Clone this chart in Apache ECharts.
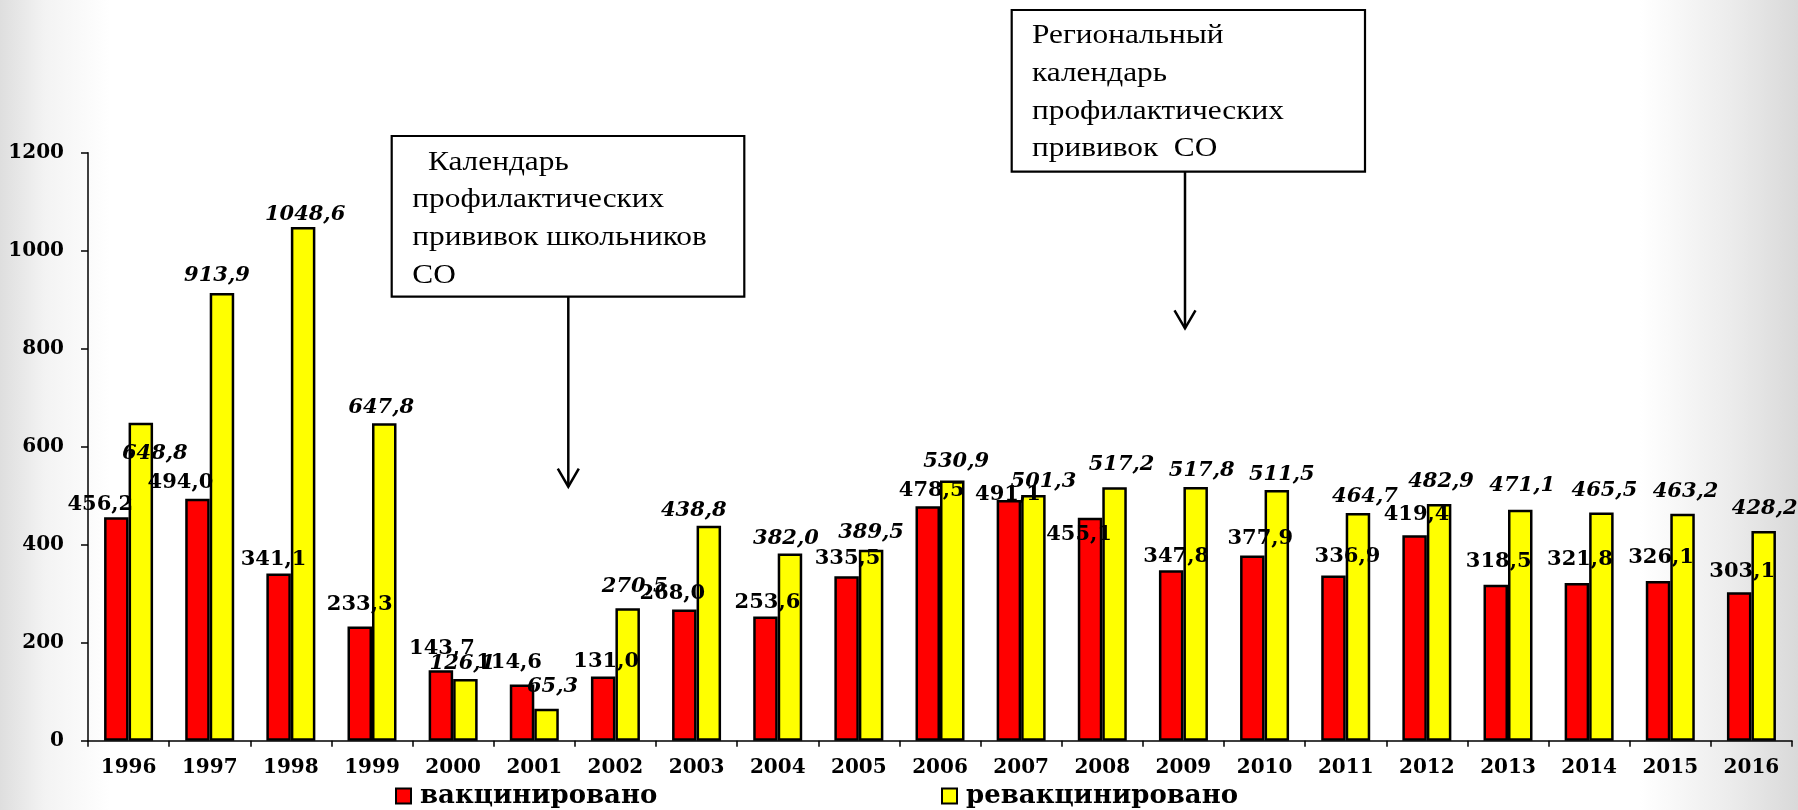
<!DOCTYPE html>
<html>
<head>
<meta charset="utf-8">
<script src="https://cdn.jsdelivr.net/npm/echarts@6/dist/echarts.min.js"></script>
<style>
  html, body { margin: 0; padding: 0; }
  body {
    width: 1798px; height: 810px; overflow: hidden;
    background:
      linear-gradient(to right, #dedede 0px, #f3f3f3 45px, #ffffff 110px, #ffffff 1640px, #ececec 1730px, #d9d9d9 1798px);
  }
  #chart { width: 1798px; height: 810px; }
</style>
</head>
<body>
<div id="chart"></div>
<script>
// ---- data ----
const years = ['1996','1997','1998','1999','2000','2001','2002','2003','2004','2005','2006',
               '2007','2008','2009','2010','2011','2012','2013','2014','2015','2016'];
const vaccinated = [456.2, 494.0, 341.1, 233.3, 143.7, 114.6, 131.0, 268.0, 253.6, 335.5, 478.5,
                    491.1, 455.1, 347.8, 377.9, 336.9, 419.4, 318.5, 321.8, 326.1, 303.1];
const revaccinated = [648.8, 913.9, 1048.6, 647.8, 126.1, 65.3, 270.5, 438.8, 382.0, 389.5, 530.9,
                      501.3, 517.2, 517.8, 511.5, 464.7, 482.9, 471.1, 465.5, 463.2, 428.2];
const seriesNames = ['вакцинировано', 'ревакцинировано'];
const yTicks = { min: 0, max: 1200, interval: 200 };
const note1Lines = ['  Календарь', 'профилактических', 'прививок школьников', 'СО'];
const note2Lines = ['Региональный', 'календарь', 'профилактических', 'прививок  СО'];

// ---- label placement (manual nudges as in the original) ----
const redLabelOffsets = [[-16,-13],[-17,-16],[-5,-14],[0,-22],[1,-22],[-13,-22],[3,-15],[-12,-16],
  [2,-14],[1,-18],[4,-16],[-1,-6],[-11,17],[5,-14],[8,-17],[14,-19],[2,-21],[3,-23],[3,-23],[3,-23],[3,-21]];
const yellowLabelOffsets = [[14,31],[-5,-17],[2,-12],[-3,-16],[-3,-15],[6,-22],[7,-22],[-15,-15],
  [-4,-15],[0,-17],[4,-19],[10,-14],[7,-23],[6,-16],[5,-16],[7,-16],[2,-23],[2,-24],[3,-22],[3,-22],[1,-22]];

const NUM_FONT = "'DejaVu Serif'";
const BOX_FONT = "'Liberation Serif'";
const fmt = v => v.toFixed(1).replace('.', ',');

function buildData(values, offsets) {
  return values.map((v, i) => ({
    value: v,
    label: { offset: offsets[i] }
  }));
}

const chart = echarts.init(document.getElementById('chart'), null, { renderer: 'canvas' });

function boxGraphics(x, y, w, h, lines, textX, textY, arrowX, arrowEndY) {
  return [
    { type: 'rect', shape: { x: x, y: y, width: w, height: h },
      style: { fill: '#ffffff', stroke: '#000', lineWidth: 2.2 }, z: 100 },
    { type: 'text', x: textX, y: textY, scaleX: 1.16, scaleY: 1,
      style: { text: lines.join('\n'), font: "27px " + BOX_FONT, fill: '#000',
               lineHeight: 37.8, verticalAlign: 'top', align: 'left' }, z: 101 },
    { type: 'line', shape: { x1: arrowX, y1: y + h, x2: arrowX, y2: arrowEndY },
      style: { stroke: '#000', lineWidth: 2.5 }, z: 100 },
    { type: 'polyline', shape: { points: [[arrowX - 10.5, arrowEndY - 18], [arrowX, arrowEndY], [arrowX + 10.5, arrowEndY - 18]] },
      style: { stroke: '#000', lineWidth: 2.5, fill: null }, z: 100 }
  ];
}

const option = {
  backgroundColor: 'transparent',
  animation: false,
  grid: { left: 88, right: 6, top: 152.7, bottom: 69.3, containLabel: false },
  legend: [
    { data: [seriesNames[0]], left: 390, top: 778, icon: 'rect', itemWidth: 15, itemHeight: 15,
      textStyle: { fontFamily: NUM_FONT, fontWeight: 'bold', fontSize: 26, color: '#000', padding: [0,0,0,4] } },
    { data: [seriesNames[1]], left: 936, top: 778, icon: 'rect', itemWidth: 15, itemHeight: 15,
      textStyle: { fontFamily: NUM_FONT, fontWeight: 'bold', fontSize: 26, color: '#000', padding: [0,0,0,4] } }
  ],
  xAxis: {
    type: 'category',
    data: years,
    boundaryGap: true,
    axisLine: { show: true, lineStyle: { color: '#000', width: 1.5 } },
    axisTick: { show: true, length: 6, lineStyle: { color: '#000', width: 1.5 } },
    axisLabel: { fontFamily: NUM_FONT, fontWeight: 'bold', fontSize: 20, color: '#000', margin: 17, interval: 0 },
    splitLine: { show: false }
  },
  yAxis: {
    type: 'value',
    min: yTicks.min, max: yTicks.max, interval: yTicks.interval,
    axisLine: { show: true, lineStyle: { color: '#000', width: 1.5 } },
    axisTick: { show: true, length: 7, lineStyle: { color: '#000', width: 1.5 } },
    axisLabel: { fontFamily: NUM_FONT, fontWeight: 'bold', fontSize: 20, color: '#000', margin: 24,
                 formatter: v => String(v) },
    splitLine: { show: false }
  },
  series: [
    {
      name: seriesNames[0], type: 'bar', barWidth: 24.5, barGap: '0%',
      data: buildData(vaccinated, redLabelOffsets),
      itemStyle: { color: '#ff0000', borderColor: '#000', borderWidth: 2.5 },
      label: { show: true, position: 'top', distance: 0, verticalAlign: 'middle', align: 'center',
               fontFamily: NUM_FONT, fontWeight: 'bold', fontSize: 21, color: '#000',
               textBorderWidth: 0, formatter: p => fmt(p.value) },
      z: 2
    },
    {
      name: seriesNames[1], type: 'bar', barWidth: 24.5, barGap: '0%',
      data: buildData(revaccinated, yellowLabelOffsets),
      itemStyle: { color: '#ffff00', borderColor: '#000', borderWidth: 2.5 },
      label: { show: true, position: 'top', distance: 0, verticalAlign: 'middle', align: 'center',
               fontFamily: NUM_FONT, fontWeight: 'bold', fontStyle: 'italic', fontSize: 21, color: '#000',
               textBorderWidth: 0, formatter: p => fmt(p.value) },
      z: 2
    }
  ],
  graphic: [].concat(
    boxGraphics(391.7, 136, 352.6, 160.7, note1Lines, 412.3, 143.6, 568.3, 486.7),
    boxGraphics(1011.7, 10, 353.3, 161.7, note2Lines, 1032, 17, 1185, 328.3)
  )
};

chart.setOption(option);
</script>
</body>
</html>
